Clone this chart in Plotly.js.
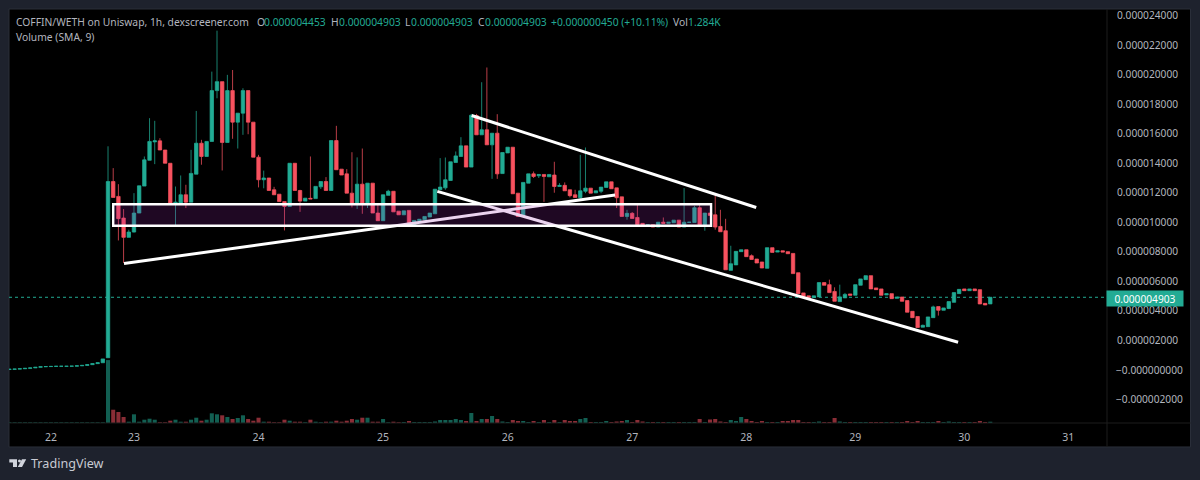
<!DOCTYPE html>
<html><head><meta charset="utf-8">
<script src="https://cdn.plot.ly/plotly-3.0.1.min.js"></script>
<style>html,body{margin:0;padding:0;background:#1e222d}#c{width:1200px;height:480px}</style>
</head><body><div id="c"></div>
<script>
// Prices are in millionths of WETH; first 19 entries are the flat stretch before the launch candle.
const firstIndex=-19;
const opens=[0,0.02,0.03,0.05,0.08,0.11,0.15,0.19,0.2,0.21,0.22,0.22,0.22,0.23,0.25,0.28,0.33,0.4,0.46,
0.8,12.76,11.75,10.28,8.97,9.33,10.62,12.45,14.2,15.45,
15.52,14.9,14,11.23,11.3,11.86,11.36,13.26,15.36,14.46,
15.48,18.93,19.54,15.41,18.93,16.79,17.4,18.93,16.79,14.41,
12.88,13,12.2,11.9,11.4,11.07,14,12.15,11.43,11.62,
11.6,12.4,12.76,12.15,15.54,13.6,13.28,11.97,11.23,12.58,
11.25,12.65,10.62,10.1,11.82,12.1,10.75,10.5,10.8,9.78,
10.1,10.16,10.35,10.57,12.2,12.33,12.83,14.05,14.46,15.18,
13.74,17.24,15.93,16.27,15.25,16.04,13.3,14.7,15.09,11.97,
10.39,12.65,13.28,13.15,13.24,13.08,13.2,12.42,12.5,12.2,
11.86,11.66,12.1,12.31,11.99,12.1,12.36,12.74,12.33,11.72,
10.39,10.6,10.32,9.92,9.78,9.83,9.67,10,9.92,9.96,
10.14,9.67,9.98,9.98,10.98,9.83,10.62,10.5,9.71,9.42,
6.73,7.1,8,8.13,7.72,7.5,7.3,6.87,8.27,7.97,
8.06,8,7.88,6.57,5.2,5,4.88,4.93,5.9,5.76,
5.3,4.61,4.86,5.13,5.04,5.72,6.1,6.37,5.54,5.47,
5.06,5.15,4.83,4.92,4.68,3.95,3.6,2.87,2.91,3.52,
4.27,4.02,4.14,4.56,5.15,5.47,5.35,5.47,5.42,4.49,
4.453];
const closes=[0.02,0.03,0.05,0.08,0.11,0.15,0.19,0.2,0.21,0.22,0.22,0.22,0.23,0.25,0.28,0.33,0.4,0.46,0.72,
12.76,11.68,10.24,8.97,9.33,10.62,12.47,14.23,15.48,15.52,
14.9,14,11.23,11.36,11.86,11.36,13.31,15.36,14.46,15.48,
18.93,19.54,15.41,18.93,16.79,17.4,18.93,16.79,14.41,12.88,
13,12.15,11.86,11.4,11.07,14,12.15,11.43,11.63,11.58,
12.43,12.76,12.15,15.54,13.56,13.2,11.97,11.2,12.58,11.23,
12.65,10.62,10.1,11.86,12.1,10.7,10.5,10.77,9.78,10.12,
10.2,10.39,10.62,12.24,12.38,12.88,14.1,14.5,15.18,13.74,
17.26,15.93,16.27,15.25,16.04,13.28,14.73,15.09,11.93,10.39,
12.7,13.28,13.1,13.24,13.1,13.24,12.42,12.5,12.13,11.8,
11.68,12.13,12.31,11.97,12.13,12.38,12.74,12.27,11.66,10.39,
10.6,10.25,9.83,9.78,9.82,9.67,10,9.92,10,10.14,
9.67,10,10,10.98,9.83,10.62,10.46,9.67,9.35,6.77,
7.18,8.02,8.13,7.66,7.47,7.23,6.89,8.27,7.95,8.06,
7.97,7.86,6.51,5.15,4.93,4.88,5,5.9,5.72,5.22,
4.63,4.93,5.1,5.04,5.76,6.15,6.37,5.47,5.42,5.04,
5.15,4.81,4.92,4.63,3.89,3.52,2.85,3,3.57,4.25,
4.02,4.18,4.61,5.22,5.44,5.35,5.47,5.35,4.45,4.38,
4.903];
const highs=[0.02,0.03,0.05,0.08,0.11,0.15,0.19,0.2,0.21,0.22,0.22,0.22,0.23,0.25,0.28,0.33,0.4,0.46,0.72,
15.15,13.67,12.58,10.89,9.49,11.97,12.47,14.46,17.06,16.88,
15.7,14.9,14,12.42,13.17,12.54,14.91,17.55,15.59,15.48,
20.22,23,19.54,20,20.33,17.4,19.09,18.93,16.79,14.57,
13.5,13,12.4,11.9,11.4,14,14,12.2,11.63,14.46,
12.43,12.76,13.06,15.54,16.54,13.6,13.6,14.75,14.4,15,
12.65,12.65,11.3,11.86,12.2,12.1,10.75,10.77,10.8,10.12,
10.2,10.39,10.62,12.24,14.35,14.39,14.1,14.8,15.77,15.18,
17.35,17.35,19.5,20.5,16.04,17.33,14.73,15.09,15.09,11.97,
12.7,13.28,13.44,13.24,13.24,13.24,14.1,12.65,12.7,12.2,
12.2,14.57,15.07,12.31,12.13,12.38,12.74,12.74,12.33,11.72,
10.84,10.69,11.3,9.92,9.82,9.83,10,10.32,10,10.14,
10.14,12.31,10,11.11,11.23,10.62,10.62,11.93,10.84,10.23,
8.4,8.02,8.13,8.13,7.81,7.5,7.3,8.27,8.27,8.06,
8.06,8,7.88,6.57,5.2,5,5,5.9,5.9,6.1,
5.58,5.76,5.2,5.13,5.76,6.15,6.37,6.37,5.54,5.47,
5.15,5.15,4.92,4.92,4.68,3.95,3.6,3.05,3.57,4.34,
4.27,4.18,4.61,5.22,5.44,5.47,5.47,5.47,5.42,4.49,
4.903];
const lows=[0,0.02,0.03,0.05,0.08,0.11,0.15,0.19,0.2,0.21,0.22,0.22,0.22,0.23,0.25,0.28,0.33,0.4,0.46,
0.8,11.68,8.76,7.23,8.97,9.3,10.62,12.45,14.2,13.94,
14.9,14,11.23,9.76,11.3,10.96,11.36,13.26,13.9,14.46,
15.48,18.41,13.51,15.41,15.66,15,15.93,15.97,14.41,12.36,
12.3,12.15,11.86,11.4,9.44,11.07,12.15,10.7,11.43,11.58,
11.6,12.25,12.15,12.15,13.56,13.2,11.97,11,10.9,10.57,
10.96,10.62,10.1,10.1,11.82,10.7,10.5,10.5,9.78,9.78,
10.1,10.16,10.35,10.57,12.2,12.2,12.83,14.05,14.46,13.74,
13.74,15.93,15.93,15.25,12.94,12.94,13.3,14.7,11.93,10.39,
10.39,12.65,13,13,11.38,13.08,12,12.42,12.13,11.68,
11.68,11.52,11.97,11.97,11.99,11.97,12.36,12.27,10.96,10.39,
10.17,10.25,9.83,9.78,9.78,9.67,9.67,9.92,9.92,9.96,
9.67,9.67,9.98,9.98,9.83,9.42,10.46,9.49,9.35,6.77,
6.73,7.1,8,7.66,7.47,7.23,6.89,6.87,7.95,7.97,
7.97,7.86,6.51,5.15,4.93,4.88,4.88,4.93,5.72,5.22,
4.63,4.61,4.86,5.04,5.04,5.72,6.1,5.47,5.42,5.04,
5.06,4.81,4.83,4.63,3.89,3.52,2.85,2.87,2.91,3.52,
3.66,4.02,4.1,4.56,5.15,5.35,5.35,5.35,4.45,4.38,
4.453];
const volumes=[0.7,0.7,0.7,0.7,0.7,0.7,0.7,0.7,0.7,0.7,0.7,0.7,0.7,0.7,0.7,0.7,0.7,0.7,0.7,
63,13.3,11,6,1.3,8.7,1.3,3.3,4.3,3.3,
0.8,0.8,2.3,3.3,1.3,1.3,3.3,5.3,2.3,3.3,
9.7,8.7,7.7,6,4,5,7.7,4,2.3,5.3,
1.3,1.3,0.8,0.8,3.3,2.3,1.3,1.3,0.8,3.3,
1.3,0.8,1.3,1.3,2.3,1.3,2.3,4,3.3,5.3,
5.3,1.3,1.3,4,0.8,1.3,0.8,1,2,1,
1,1,1,1.5,3,3,3,4,3,2,
10,2,4,4,7,4,1.5,1,3,2,
2,1,2,1,3,1,3,1,3,2,
2,4,5,1,1,1,2,1,1.5,2,
3,1,3,1.5,1,1,1,1,1,1,
1,1,1,1,4,1,3.5,4,1.5,1,
3,2,6,4,2,1,2,1,1,1,
2,2,3,3,1,1,1,1.5,1,1,
5,1.5,1,1,1,1,1,1,1,1,
1,1,1,1,2,1,2,1,1,1,
2,1,1.5,1,1,1,1,1,2,1,
1.284];
const dayTicks=[-11,5,29,53,77,101,123,144,165,185];
const dayLabels=['22','23','24','25','26','27','28','29','30','31'];
const priceTicks=[24,22,20,18,16,14,12,10,8,6,4,2];
const priceLabels=['0.000024000','0.000022000','0.000020000','0.000018000','0.000016000','0.000014000','0.000012000','0.000010000','0.000008000','0.000006000','0.000004000','0.000002000'];
const negativeTicks=[0,-2];
const negativeLabels=['\u22120.000000000','\u22120.000002000'];
const supportX=[3.08,97.7],  supportY=[7.19,11.84];
const channelTopX=[70.07,124.9], channelTopY=[17.24,11.0];
const channelLowX=[63.45,163.8], channelLowY=[12.09,1.85];
const zoneX=[1,116.2], zoneY=[9.76,11.22];
const lastPrice=4.903;

const UP='#22ab94',DOWN='#f7525f',VUP='#125f52',VDOWN='#8a2d36',TXT='#b2b5be',BG='#1e222d';
const X0=9,X1=1107,Y0=9,Y1=423.5;
const px=x=>(x-X0)/(X1-X0), py=y=>1-(y-Y0)/(Y1-Y0);
const xs=opens.map((_,i)=>i+firstIndex);
const FONT='"Noto Sans", sans-serif';

const lineTrace=(x,y)=>({type:'scatter',mode:'lines',x,y,line:{color:'#ffffff',width:3},hoverinfo:'skip',showlegend:false});
const data=[
 {type:'bar',x:xs,y:volumes,yaxis:'y2',width:0.78,
  marker:{color:xs.map((_,i)=>closes[i]>=opens[i]?VUP:VDOWN),line:{width:0}},hoverinfo:'skip',showlegend:false},
 {type:'candlestick',x:xs,open:opens,high:highs,low:lows,close:closes,whiskerwidth:0,showlegend:false,
  increasing:{line:{color:UP,width:0.75},fillcolor:UP},decreasing:{line:{color:DOWN,width:0.75},fillcolor:DOWN}},
 lineTrace(supportX,supportY),lineTrace(channelTopX,channelTopY),lineTrace(channelLowX,channelLowY)
];
const note=(x,y,text,color,size,extra)=>Object.assign({xref:'paper',yref:'paper',x:px(x),y:py(y),text,showarrow:false,xanchor:'left',yanchor:'middle',
  font:{family:FONT,size:size||10.3,color:color||TXT},borderpad:0},extra||{});
const G=UP;
const annotations=[
 note(15,22,'COFFIN/WETH on Uniswap, 1h, dexscreener.com'),
 note(15,37.5,'Volume (SMA, 9)'),
 note(256,22,'O'),note(263,22,'0.000004453',G),
 note(330,22,'H'),note(338,22,'0.000004903',G),
 note(404,22,'L'),note(410,22,'0.000004903',G),
 note(477,22,'C'),note(484,22,'0.000004903',G),
 note(550,22,'+0.000000450 (+10.11%)',G),
 note(672,22,'Vol'),note(687,22,'1.284K',G),
 note(30,464,'TradingView','#c8cbd3',12.6),
 {xref:'paper',yref:'paper',x:px(1144.5),y:py(298.5),xanchor:'center',yanchor:'middle',showarrow:false,text:'0.000004903',
  font:{family:FONT,size:10.2,color:'#ffffff'},bgcolor:UP,width:75,height:14,borderpad:0.5}
].concat(negativeTicks.map((v,i)=>({xref:'paper',yref:'y',x:px(1115),y:v,xanchor:'left',yanchor:'middle',showarrow:false,text:negativeLabels[i],
  font:{family:FONT,size:10.2,color:TXT},borderpad:0})));
const rect=(x0,y0,x1,y1,fill,line)=>({type:'rect',xref:'paper',yref:'paper',x0:px(x0),x1:px(x1),y0:py(y0),y1:py(y1),fillcolor:fill||'rgba(0,0,0,0)',line:line||{width:0},layer:'below'});
const poly=pts=>'M'+pts.map(p=>px(p[0])+','+py(p[1])).join('L')+'Z';
const logo=(pts)=>({type:'path',xref:'paper',yref:'paper',path:poly(pts),fillcolor:'#d1d4dc',line:{width:0},layer:'above'});
const shapes=[
 rect(X0,Y0,1190.5,447.5,'#000000',{color:'#2a2e39',width:1}),
 {type:'line',xref:'paper',yref:'paper',x0:px(X1),x1:px(X1),y0:py(Y0),y1:py(447.5),line:{color:'#1c1c1c',width:1},layer:'above'},
 {type:'line',xref:'paper',yref:'paper',x0:px(X0),x1:px(1190.5),y0:py(Y1),y1:py(Y1),line:{color:'#1c1c1c',width:1},layer:'above'},
 {type:'line',xref:'paper',yref:'y',x0:0,x1:1,y0:lastPrice,y1:lastPrice,line:{color:UP,width:1,dash:'dot'},layer:'below'},
 {type:'rect',xref:'x',yref:'y',x0:zoneX[0],x1:zoneX[1],y0:zoneY[0],y1:zoneY[1],fillcolor:'rgba(156,39,176,0.2)',line:{color:'#ffffff',width:2.4},layer:'above'},
 logo([[9.3,459.8],[17,459.8],[17,467.5],[13,467.5],[13,463],[9.3,463]]),
 logo([[22,459.8],[26.2,459.8],[22,467.5],[17.8,467.5]]),
 {type:'circle',xref:'paper',yref:'paper',x0:px(18),x1:px(21),y0:py(463),y1:py(460),fillcolor:'#d1d4dc',line:{width:0},layer:'above'}
];
const layout={
 width:1200,height:480,margin:{l:X0,r:1200-X1,t:Y0,b:480-Y1,pad:0},
 paper_bgcolor:BG,plot_bgcolor:'#000000',showlegend:false,hovermode:false,bargap:0.2,boxgap:0.34,boxgroupgap:0,dragmode:false,
 xaxis:{range:[-19.08,192.49],tickmode:'array',tickvals:dayTicks,ticktext:dayLabels,showgrid:false,zeroline:false,
  rangeslider:{visible:false},ticks:'outside',ticklen:4,tickcolor:'#000000',tickfont:{family:FONT,size:10.5,color:TXT},showline:false},
 yaxis:{range:[-3.63,24.47],side:'right',tickmode:'array',tickvals:priceTicks,ticktext:priceLabels,showgrid:false,zeroline:false,
  ticks:'outside',ticklen:7,tickcolor:'#000000',tickfont:{family:FONT,size:10.2,color:TXT},showline:false},
 yaxis2:{overlaying:'y',range:[0,414.5],visible:false,fixedrange:true},
 annotations,shapes
};
Plotly.newPlot('c',data,layout,{displayModeBar:false,staticPlot:true});
</script></body></html>
